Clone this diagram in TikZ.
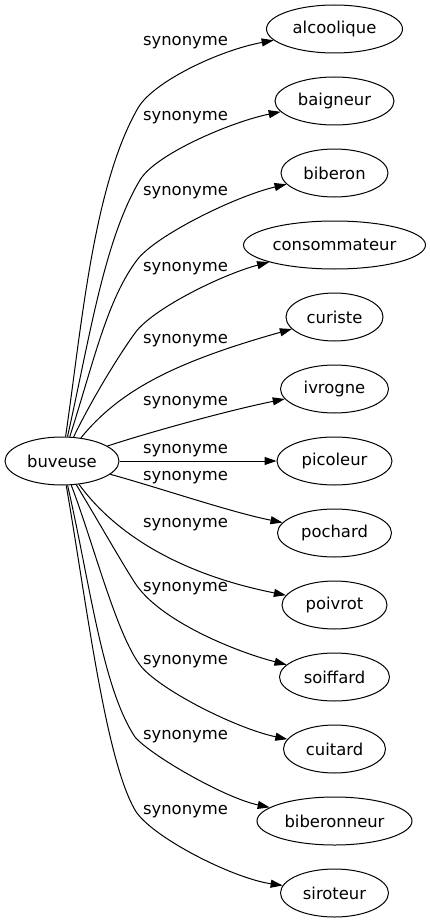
\documentclass[tikz,border=0pt]{standalone}
\usepackage{fontspec}
\setmainfont{DejaVu Sans}
\usetikzlibrary{shapes.geometric,arrows.meta}
\newcommand\labfont{\fontsize{16.4}{20}\selectfont}
\tikzset{
  word/.style={ellipse, draw, line width=1pt, inner sep=0pt, minimum height=48pt, font=\labfont},
  lab/.style={inner sep=0pt, font=\labfont},
  syn/.style={line width=1pt, -{Triangle[length=12pt,width=8pt]}}
}
\begin{document}
\begin{tikzpicture}[x=1pt,y=-1pt]
\path[use as bounding box] (0,0) rectangle (430,923);
\node[word, minimum width=114pt] (buveuse) at (62,461) {buveuse};
\node[word, minimum width=136pt] (alcoolique) at (334.5,29) {alcoolique};
\node[word, minimum width=119pt] (baigneur) at (334.5,101) {baigneur};
\node[word, minimum width=107pt] (biberon) at (334.5,173) {biberon};
\node[word, minimum width=182pt] (consommateur) at (334.5,245) {consommateur};
\node[word, minimum width=97pt] (curiste) at (334.5,317) {curiste};
\node[word, minimum width=108pt] (ivrogne) at (334.5,389) {ivrogne};
\node[word, minimum width=115pt] (picoleur) at (334.5,461) {picoleur};
\node[word, minimum width=114pt] (pochard) at (334.5,533) {pochard};
\node[word, minimum width=105pt] (poivrot) at (334.5,605) {poivrot};
\node[word, minimum width=110pt] (soiffard) at (334.5,677) {soiffard};
\node[word, minimum width=102pt] (cuitard) at (334.5,749) {cuitard};
\node[word, minimum width=155pt] (biberonneur) at (334.5,821) {biberonneur};
\node[word, minimum width=108pt] (siroteur) at (334.5,893) {siroteur};

\node[lab] (l1) at (185.5,43) {synonyme};
\node[lab] (l2) at (185.5,118) {synonyme};
\node[lab] (l3) at (185.5,193) {synonyme};
\node[lab] (l4) at (185.5,269) {synonyme};
\node[lab] (l5) at (185.5,341) {synonyme};
\node[lab] (l6) at (185.5,403) {synonyme};
\node[lab] (l7) at (185.5,451) {synonyme};
\node[lab] (l8) at (185.5,478) {synonyme};
\node[lab] (l9) at (185.5,525) {synonyme};
\node[lab] (l10) at (185.5,589) {synonyme};
\node[lab] (l11) at (185.5,662) {synonyme};
\node[lab] (l12) at (185.5,737) {synonyme};
\node[lab] (l13) at (185.5,812) {synonyme};

\draw[syn] (buveuse) .. controls (81.5,328) and (93,186) .. (138,108) .. controls (153,82) and (218.5,50.5) .. (alcoolique);
\draw[syn] (buveuse) .. controls (89.5,339) and (104,240) .. (140,180) .. controls (155.4,154) and (232,121.6) .. (baigneur);
\draw[syn] (buveuse) .. controls (94,361) and (107,300) .. (137,260) .. controls (155,236) and (234.5,196.5) .. (biberon);
\draw[syn] (buveuse) .. controls (91,401) and (117.6,357) .. (135,333) .. controls (152.4,308.7) and (222.7,274.3) .. (consommateur);
\draw[syn] (buveuse) .. controls (120,390) and (175,362) .. (curiste);
\draw[syn] (buveuse) .. controls (150,432) and (230,410) .. (ivrogne);
\draw[syn] (buveuse) -- (picoleur);
\draw[syn] (buveuse) .. controls (160,488) and (230,512) .. (pochard);
\draw[syn] (buveuse) .. controls (105,520) and (160,570) .. (poivrot);
\draw[syn] (buveuse) .. controls (97.6,520) and (121.4,562) .. (135,583) .. controls (159.5,620.7) and (235,651.5) .. (soiffard);
\draw[syn] (buveuse) .. controls (93,542) and (116,633) .. (140,665) .. controls (158,689) and (236,728.5) .. (cuitard);
\draw[syn] (buveuse) .. controls (90,583) and (102,687) .. (135,737) .. controls (151.5,756) and (225,798) .. (biberonneur);
\draw[syn] (buveuse) .. controls (86.6,603) and (105,758) .. (135,810) .. controls (150,836) and (231.5,878) .. (siroteur);
\end{tikzpicture}
\end{document}
